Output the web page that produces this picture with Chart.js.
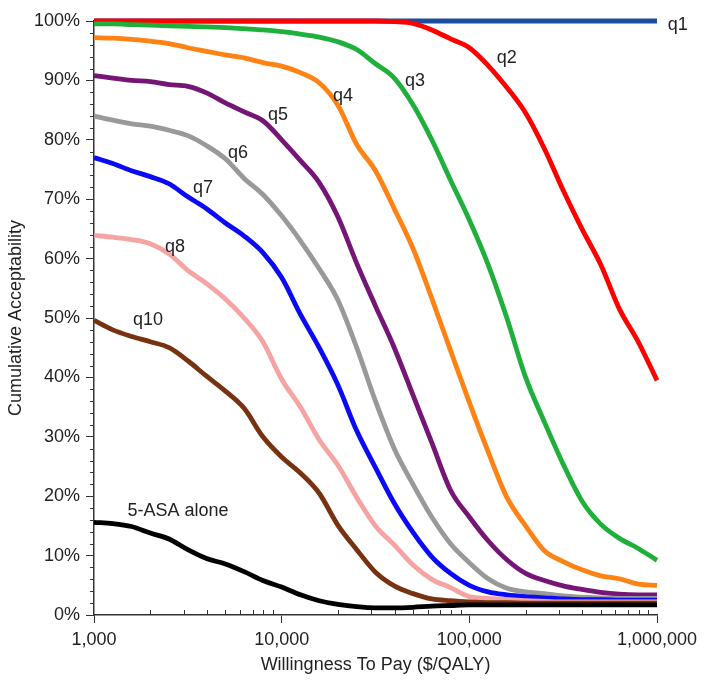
<!DOCTYPE html>
<html>
<head>
<meta charset="utf-8">
<script src="https://cdn.jsdelivr.net/npm/chart.js@4"></script>
<style>
    html, body { margin: 0; padding: 0; background: #fff; }
    #wrap { width: 704px; height: 684px; position: relative; }
</style>
</head>
<body>
<div id="wrap"><canvas id="ceac"></canvas></div>
<script>
// willingness to pay sample points ($/QALY)
const wtp = [1000, 1259, 1585, 1995, 2512, 3162, 3981, 5012, 6310, 7943,
    10000, 12589, 15849, 19953, 25119, 31623, 39811, 50119, 63096, 79433,
    100000, 125893, 158489, 199526, 251189, 316228, 398107, 501187, 630957, 794328, 1000000];

// cumulative acceptability (%)
const q1 = [100, 100, 100, 100, 100, 100, 100, 100, 100, 100, 100, 100, 100, 100, 100, 100,
    100, 100, 100, 100, 100, 100, 100, 100, 100, 100, 100, 100, 100, 100, 100];
const q2 = [100, 100, 100, 100, 100, 100, 100, 100, 100, 100, 100, 100, 100, 100, 100, 100,
    99.9, 99.6, 98.5, 97, 95.5, 92.5, 88.8, 84.5, 78.5, 71.5, 65, 59, 51.5, 46, 39.5];
const q3 = [99.5, 99.5, 99.4, 99.3, 99.2, 99.1, 99, 98.9, 98.7, 98.5, 98.2, 97.8, 97.3, 96.5, 95.2,
    92.8, 90.4, 85.9, 80, 73.2, 66.5, 59, 50, 40, 32.5, 25.4, 19.2, 15.3, 12.9, 11.2, 9.2];
const q4 = [97.2, 97.1, 96.9, 96.6, 96.2, 95.5, 94.9, 94.3, 93.8, 93, 92.4, 91.3, 89.6, 85.8, 79.2,
    74.8, 68.4, 61.7, 53.3, 44.5, 35.8, 27.5, 19.8, 15, 10.8, 9, 7.6, 6.6, 6.1, 5.2, 5];
const q5 = [90.8, 90.4, 90, 89.8, 89.3, 89, 87.9, 86.2, 84.7, 83.2, 80, 76.5, 72.8, 67, 59.2,
    52, 45, 37, 29, 21, 16.5, 12.5, 9.3, 7, 5.8, 4.9, 4.3, 3.8, 3.5, 3.4, 3.4];
const q6 = [84, 83.3, 82.7, 82.3, 81.6, 80.7, 79, 76.8, 73.5, 70.8, 67.2, 63, 58.3, 53, 45,
    36, 28, 22, 16.5, 12, 8.8, 6.1, 4.5, 3.9, 3.6, 3.2, 3, 2.9, 2.8, 2.8, 2.8];
const q7 = [77, 76, 74.8, 73.8, 72.6, 70.4, 68.4, 66, 63.8, 61, 56.8, 50.6, 45, 38.7, 31,
    24.8, 18.8, 13.9, 9.8, 7, 5, 3.9, 3.4, 3.1, 2.9, 2.7, 2.6, 2.6, 2.5, 2.5, 2.5];
const q8 = [63.9, 63.6, 63.2, 62.5, 60.8, 58, 55.8, 53.2, 50, 46, 39.7, 35, 29.5, 25.2, 19.8,
    15, 11.8, 8.4, 6, 4.6, 3.1, 2.8, 2.6, 2.4, 2.3, 2.2, 2.2, 2.2, 2.2, 2.2, 2.2];
const q10 = [49.6, 48, 46.9, 46, 45, 42.8, 40.2, 37.7, 34.8, 30, 26.6, 23.9, 20.5, 15.1, 11,
    7.2, 4.9, 3.6, 2.7, 2.4, 2.2, 2.1, 2.1, 2, 2, 2, 2, 2, 2, 2, 2];
const asaAlone = [15.6, 15.4, 14.9, 13.8, 12.8, 11, 9.5, 8.6, 7.3, 5.8, 4.7, 3.4, 2.4, 1.8, 1.4,
    1.2, 1.2, 1.3, 1.5, 1.6, 1.7, 1.7, 1.7, 1.7, 1.7, 1.7, 1.7, 1.7, 1.7, 1.7, 1.7];

const xTicks = [1000, 10000, 100000, 1000000];

// inline curve labels, anchored in data units
const labelText = ['q1', 'q2', 'q3', 'q4', 'q5', 'q6', 'q7', 'q8', 'q10', '5-ASA alone'];
const labelWtp = [1290000, 158500, 51300, 21200, 9550, 5850, 3810, 2700, 1940, 2800];
const labelPct = [99.3, 93.8, 89.9, 87.4, 84.2, 77.8, 71.8, 62.0, 49.6, 17.5];

const FONT = 'Arial, "Liberation Sans", sans-serif';
const TEXT = '#222';
const AXIS = '#333';

const toXY = (arr) => arr.map((v, i) => ({ x: wtp[i], y: v }));

function series(label, values, color) {
    return {
        label: label,
        data: toXY(values),
        borderColor: color,
        backgroundColor: color,
        borderWidth: 4.8,
        pointRadius: 0,
        cubicInterpolationMode: 'monotone',
        clip: false,
        fill: false
    };
}

// first dataset is drawn on top
const datasets = [
    series('5-ASA alone', asaAlone, '#000000'),
    series('q10', q10, '#773311'),
    series('q8', q8, '#f5a3a3'),
    series('q7', q7, '#0a0af5'),
    series('q6', q6, '#999999'),
    series('q5', q5, '#751676'),
    series('q4', q4, '#ff8214'),
    series('q3', q3, '#1fb03c'),
    series('q2', q2, '#ff0000'),
    series('q1', q1, '#1a4d9c')
];

const axisExtras = {
    id: 'axisExtras',
    afterDraw(chart) {
        const c = chart.ctx;
        const xs = chart.scales.x;
        const ys = chart.scales.y;
        const area = chart.chartArea;
        c.save();
        c.strokeStyle = AXIS;
        c.lineWidth = 1;
        // minor y ticks every 2%
        for (let v = 2; v < 100; v += 2) {
            if (v % 10 === 0) continue;
            const y = Math.round(ys.getPixelForValue(v)) + 0.5;
            c.beginPath();
            c.moveTo(area.left - 4, y);
            c.lineTo(area.left, y);
            c.stroke();
        }
        // minor log ticks on x, pointing inward
        [1000, 10000, 100000].forEach(d => {
            for (let m = 2; m <= 9; m++) {
                const x = Math.round(xs.getPixelForValue(m * d)) + 0.5;
                c.beginPath();
                c.moveTo(x, area.bottom);
                c.lineTo(x, area.bottom - 5);
                c.stroke();
            }
        });
        // curve labels
        c.fillStyle = TEXT;
        c.font = '18px ' + FONT;
        c.textAlign = 'center';
        c.textBaseline = 'middle';
        labelText.forEach((t, i) => {
            c.fillText(t, xs.getPixelForValue(labelWtp[i]), ys.getPixelForValue(labelPct[i]));
        });
        c.restore();
    }
};

new Chart(document.getElementById('ceac').getContext('2d'), {
    type: 'line',
    data: { datasets: datasets },
    options: {
        responsive: true,
        maintainAspectRatio: false,
        animation: false,
        layout: { padding: { left: 0, right: 47, top: 21, bottom: 0 } },
        plugins: {
            legend: { display: false },
            tooltip: { enabled: false }
        },
        scales: {
            x: {
                type: 'logarithmic',
                min: 1000,
                max: 1000000,
                afterBuildTicks: (s) => { s.ticks = xTicks.map(v => ({ value: v })); },
                afterFit: (s) => { s.height = 69; },
                ticks: {
                    autoSkip: false,
                    maxRotation: 0,
                    padding: 6,
                    color: TEXT,
                    font: { family: FONT, size: 18 },
                    callback: (v) => Number(v).toLocaleString('en-US')
                },
                grid: { drawOnChartArea: false, tickLength: 8, color: AXIS },
                border: { color: AXIS, width: 1.5 },
                title: {
                    display: true,
                    text: 'Willingness To Pay ($/QALY)',
                    color: TEXT,
                    font: { family: FONT, size: 18 },
                    padding: { top: 0, bottom: 8 }
                }
            },
            y: {
                min: 0,
                max: 100,
                afterFit: (s) => { s.width = 94; },
                ticks: {
                    stepSize: 10,
                    padding: 6,
                    color: TEXT,
                    font: { family: FONT, size: 18 },
                    callback: (v) => v + '%'
                },
                grid: { drawOnChartArea: false, tickLength: 8, color: AXIS },
                border: { color: AXIS, width: 1.5 },
                title: {
                    display: true,
                    text: 'Cumulative Acceptability',
                    color: TEXT,
                    font: { family: FONT, size: 18 },
                    padding: { top: 5, bottom: 0 }
                }
            }
        }
    },
    plugins: [axisExtras]
});
</script>
</body>
</html>
